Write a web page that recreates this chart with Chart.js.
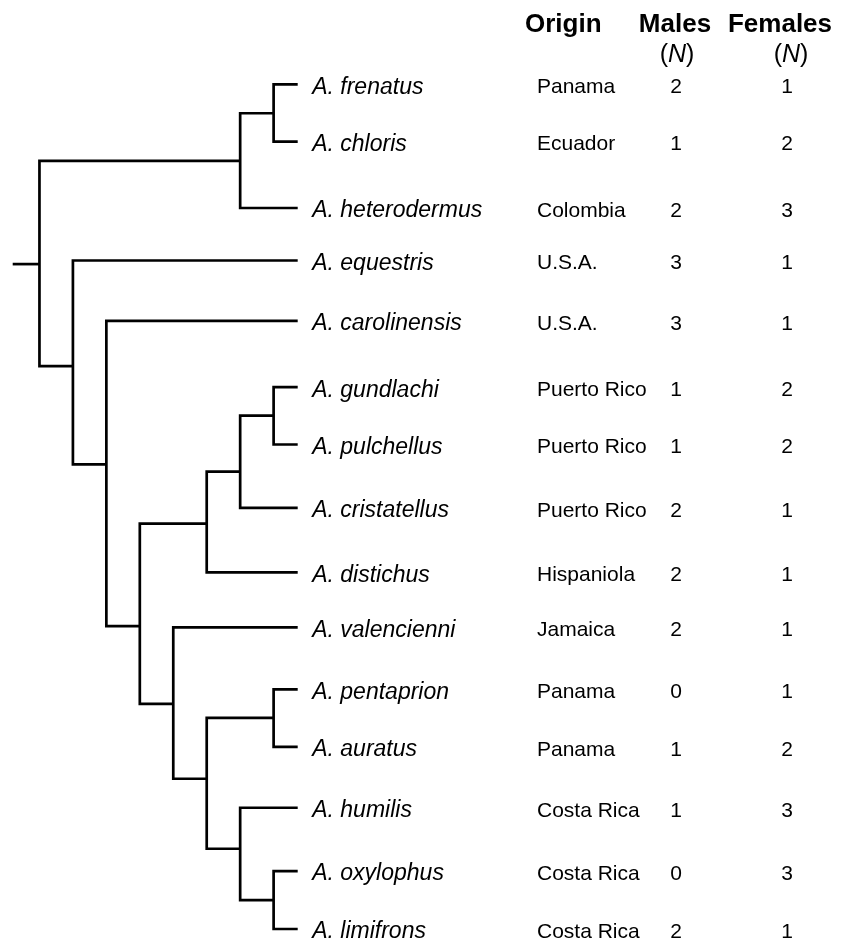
<!DOCTYPE html>
<html>
<head>
<meta charset="utf-8">
<script src="https://cdn.jsdelivr.net/npm/chart.js@4/dist/chart.umd.min.js"></script>
<style>
  html, body { margin: 0; padding: 0; background: #fff; }
  #wrap { width: 849px; height: 944px; position: relative; }
</style>
</head>
<body>
<div id="wrap"><canvas id="tree"></canvas></div>
<script>
// tips, top to bottom
const species = ['A. frenatus', 'A. chloris', 'A. heterodermus', 'A. equestris', 'A. carolinensis',
  'A. gundlachi', 'A. pulchellus', 'A. cristatellus', 'A. distichus', 'A. valencienni',
  'A. pentaprion', 'A. auratus', 'A. humilis', 'A. oxylophus', 'A. limifrons'];
const origins = ['Panama', 'Ecuador', 'Colombia', 'U.S.A.', 'U.S.A.',
  'Puerto Rico', 'Puerto Rico', 'Puerto Rico', 'Hispaniola', 'Jamaica',
  'Panama', 'Panama', 'Costa Rica', 'Costa Rica', 'Costa Rica'];
const males = [2, 1, 2, 3, 3, 1, 1, 2, 2, 2, 0, 1, 1, 0, 2];
const females = [1, 2, 3, 1, 1, 2, 2, 1, 1, 1, 1, 2, 3, 3, 1];
// row of each tip as drawn
const tipRows = [0, 0.95, 2.05, 2.92, 3.92, 5.02, 5.97, 7.02, 8.09, 9.0, 10.03, 10.98, 11.99, 13.04, 14];
const tipDepth = 8.72;

// internal nodes: ids 15.. in this order; children refer to tip (0-14) or node ids
const nodeChildren = [[0, 1], [15, 2], [5, 6], [17, 7], [18, 8], [10, 11], [13, 14], [12, 21],
  [20, 22], [9, 23], [19, 24], [4, 25], [3, 26], [16, 27]];
const nodeDepth = [8, 7, 8, 7, 6, 8, 8, 7, 6, 5, 4, 3, 2, 1];
const nodeRows = [0.48, 1.27, 5.49, 6.42, 7.28, 10.50, 13.52, 12.67, 11.51, 10.27, 8.98, 6.30, 4.67, 2.98];
const rootStart = 0.2;

const headers = ['Origin', 'Males', 'Females'];

const FONT = '"Liberation Sans", Arial, Helvetica, sans-serif';

function depthOf(id) {
    return id < species.length ? tipDepth : nodeDepth[id - species.length];
}
function rowOf(id) {
    return id < species.length ? tipRows[id] : nodeRows[id - species.length];
}

function buildBranches() {
    let sets = nodeChildren.map((kids, i) => {
        let d = nodeDepth[i];
        let a = kids[0], b = kids[1];
        return {
            data: [
                {x: depthOf(a), y: rowOf(a)},
                {x: d, y: rowOf(a)},
                {x: d, y: rowOf(b)},
                {x: depthOf(b), y: rowOf(b)},
            ],
        };
    });
    let root = nodeRows[nodeRows.length - 1];
    sets.push({data: [{x: rootStart, y: root}, {x: nodeDepth[nodeDepth.length - 1], y: root}]});
    return sets.map(s => Object.assign(s, {
        borderColor: '#000',
        borderWidth: 2.7,
        pointRadius: 0,
        tension: 0,
        fill: false,
        clip: false,
        borderJoinStyle: 'miter',
        borderCapStyle: 'butt',
    }));
}

const tablePlugin = {
    id: 'tablePlugin',
    afterDraw(chart) {
        const ctx = chart.ctx;
        const xs = chart.scales.x, ys = chart.scales.y;
        const nameX = xs.getPixelForValue(tipDepth) + 14.5;
        ctx.save();
        ctx.fillStyle = '#000';
        ctx.textBaseline = 'middle';

        // header
        ctx.font = 'bold 26px ' + FONT;
        ctx.textAlign = 'left';
        ctx.fillText(headers[0], 525, 25);
        ctx.textAlign = 'center';
        ctx.fillText(headers[1], 675, 25);
        ctx.fillText(headers[2], 780, 25);
        drawN(ctx, 677, 55);
        drawN(ctx, 791, 55);

        species.forEach((name, i) => {
            let y = ys.getPixelForValue(tipRows[i]) + 3;
            ctx.font = 'italic 23px ' + FONT;
            ctx.textAlign = 'left';
            ctx.fillText(name, nameX, y);
            ctx.font = '21px ' + FONT;
            ctx.fillText(origins[i], 537, y);
            ctx.textAlign = 'center';
            ctx.fillText(String(males[i]), 676, y);
            ctx.fillText(String(females[i]), 787, y);
        });
        ctx.restore();
    }
};

function drawN(ctx, cx, y) {
    ctx.textAlign = 'left';
    let reg = '25px ' + FONT, ital = 'italic 25px ' + FONT;
    ctx.font = reg;
    let wl = ctx.measureText('(').width, wr = ctx.measureText(')').width;
    ctx.font = ital;
    let wn = ctx.measureText('N').width;
    let x = cx - (wl + wn + wr) / 2;
    ctx.font = reg;
    ctx.fillText('(', x, y);
    ctx.font = ital;
    ctx.fillText('N', x + wl, y);
    ctx.font = reg;
    ctx.fillText(')', x + wl + wn, y);
}

new Chart(document.getElementById('tree'), {
    type: 'line',
    data: {datasets: buildBranches()},
    plugins: [tablePlugin],
    options: {
        responsive: true,
        maintainAspectRatio: false,
        animation: false,
        events: [],
        layout: {padding: {left: 12.7, right: 551.3, top: 84.3, bottom: 15}},
        plugins: {legend: {display: false}, tooltip: {enabled: false}},
        scales: {
            x: {type: 'linear', display: false, min: rootStart, max: tipDepth},
            y: {type: 'linear', display: false, min: 0, max: 14, reverse: true},
        },
    },
});
</script>
</body>
</html>
